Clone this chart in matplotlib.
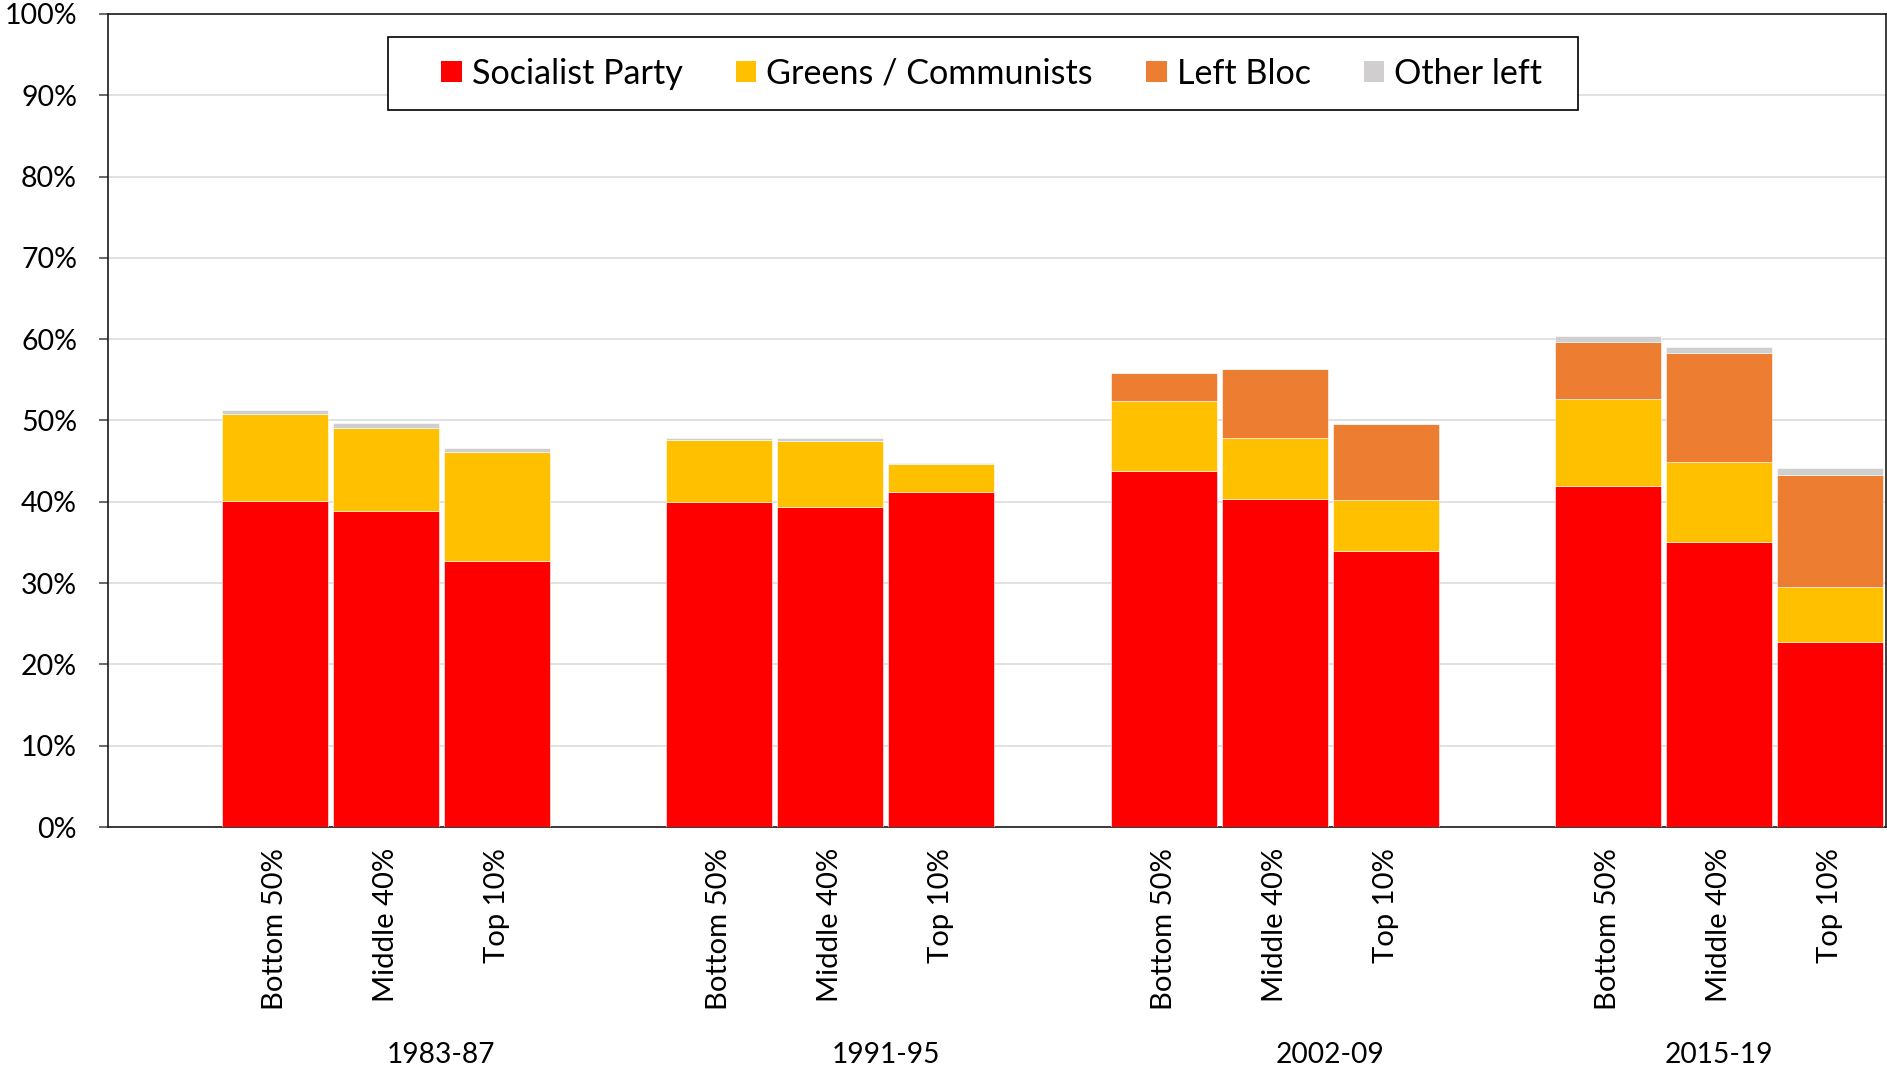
import matplotlib
matplotlib.use("Agg")
import matplotlib.pyplot as plt
from matplotlib.font_manager import FontProperties
from matplotlib.textpath import TextPath
from matplotlib.patches import Patch, Rectangle
import matplotlib.transforms as mtransforms

# ---------------- data ----------------
periods = ["1983-87", "1991-95", "2002-09", "2015-19"]
income_groups = ["Bottom 50%", "Middle 40%", "Top 10%"]
series_names = ["Socialist Party", "Greens / Communists", "Left Bloc", "Other left"]

socialist = [40.1, 38.9, 32.7, 40.0, 39.4, 41.2, 43.8, 40.3, 33.9, 41.9, 35.1, 22.7]
greens    = [10.7, 10.2, 13.4, 7.6, 8.1, 3.5, 8.6, 7.6, 6.3, 10.8, 9.8, 6.8]
left_bloc = [0.0, 0.0, 0.0, 0.0, 0.0, 0.0, 3.5, 8.4, 9.4, 7.0, 13.4, 13.8]
other     = [0.5, 0.6, 0.5, 0.3, 0.3, 0.1, 0.0, 0.0, 0.0, 0.7, 0.8, 0.8]

colors = ["#FF0000", "#FFC000", "#ED7D31", "#D0CECE"]

FAMILY = "Lato"
DPI = 100


def fit_size(text, target_px):
    tp = TextPath((0, 0), text, prop=FontProperties(family=FAMILY, size=100))
    w = tp.get_extents().width * DPI / 72.0
    return 100 * target_px / w


fs_y = fit_size("100%", 69)
fs_x = fit_size("Bottom 50%", 158)
fs_grp = fit_size("1983-87", 105)
fs_leg = fit_size("Socialist Party", 210)

plt.rcParams["font.family"] = [FAMILY, "DejaVu Sans"]

W, H = 1887, 1070
fig = plt.figure(figsize=(W / DPI, H / DPI), dpi=DPI)
ax = fig.add_axes([108 / W, (H - 827) / H, (1886 - 108) / W, (827 - 14) / H])

# positions: one empty slot before each group of three bars
xpos = []
for g in range(len(periods)):
    for i in range(len(income_groups)):
        xpos.append(g * 4 + i + 1)

series = [socialist, greens, left_bloc, other]
bottom = [0.0] * len(xpos)
handles = []
for name, vals, col in zip(series_names, series, colors):
    ax.bar(xpos, vals, bottom=bottom, width=0.953, color=col,
           edgecolor="white", linewidth=0.4, zorder=3)
    bottom = [b + v for b, v in zip(bottom, vals)]
    handles.append(Patch(facecolor=col, edgecolor="none", label=name))

ax.set_xlim(-0.5, 15.5)
ax.set_ylim(0, 100)
yt = list(range(0, 101, 10))
ax.set_yticks(yt)
ax.set_yticklabels([f"{v}%" for v in yt], fontsize=fs_y)
ax.tick_params(axis="y", length=6.3, width=1.1, pad=16, color="#404040")
ax.yaxis.grid(True, color="#D9D9D9", linewidth=1.1, zorder=0)
ax.set_axisbelow(True)

ax.set_xticks(xpos)
ax.set_xticklabels(income_groups * len(periods), rotation=90, fontsize=fs_x,
                   va="top", ha="center")
ax.tick_params(axis="x", length=0, pad=15)

for sp in ax.spines.values():
    sp.set_color("#1a1a1a")
    sp.set_linewidth(1.2)

# group labels
trans = mtransforms.blended_transform_factory(ax.transData, fig.transFigure)
group_centers = [2.5, 6.5, 10.5, 14]
for c, p in zip(group_centers, periods):
    ax.text(c, (H - 1055) / H, p, transform=trans, ha="center", va="center",
            fontsize=fs_grp)

# legend box drawn separately
box = Rectangle((388 / W, (H - 110) / H), (1578 - 388) / W, 73 / H,
                transform=fig.transFigure, facecolor="white",
                edgecolor="black", linewidth=1.2, zorder=5)
fig.patches.append(box)

f_px = fs_leg * DPI / 72.0
leg = fig.legend(handles=handles, loc="center left", ncol=4,
                 bbox_to_anchor=(441 / W, (H - 73.5) / H),
                 fontsize=fs_leg, frameon=False,
                 handlelength=20.7 / f_px, handleheight=20.7 / f_px,
                 handletextpad=10 / f_px, columnspacing=53 / f_px,
                 borderpad=0, borderaxespad=0)
leg.set_zorder(6)

fig.savefig("out.png", dpi=DPI)
